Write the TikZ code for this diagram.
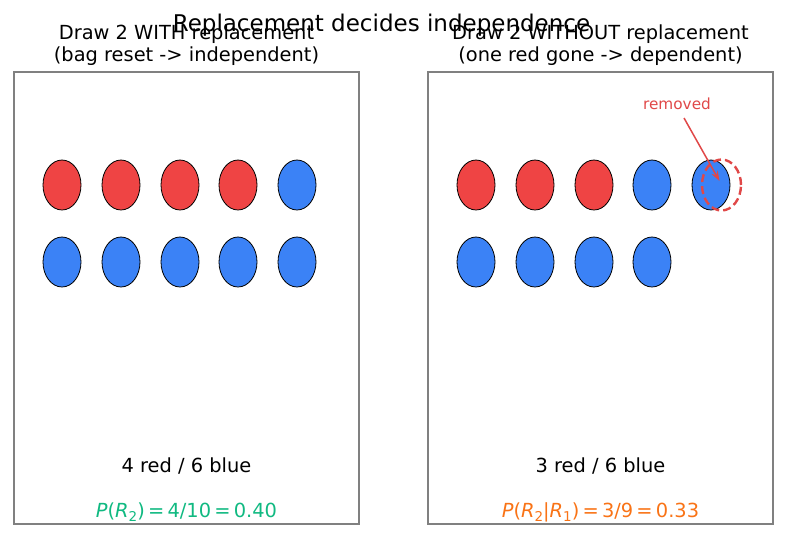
\documentclass[tikz,border=0pt]{standalone}
\usepackage{fontspec}
\setmainfont{DejaVu Sans}
\usetikzlibrary{shapes.geometric,arrows.meta}
\definecolor{ballred}{HTML}{EF4444}
\definecolor{ballblue}{HTML}{3B82F6}
\definecolor{eqgreen}{HTML}{10B981}
\definecolor{eqorange}{HTML}{F97316}
\definecolor{boxgray}{HTML}{808080}
\definecolor{markred}{HTML}{E04848}
\newcommand{\mysub}[1]{\raisebox{-0.25em}{\fontsize{13.5}{14}\selectfont #1}}
\tikzset{
  ball/.style={ellipse, draw=black, line width=0.8pt, minimum width=38pt, minimum height=50pt, inner sep=0pt},
  redball/.style={ball, fill=ballred},
  blueball/.style={ball, fill=ballblue},
  panel/.style={draw=boxgray, line width=1.2pt},
  titletext/.style={font=\fontsize{23}{27}\selectfont, anchor=base},
  subtext/.style={font=\fontsize{19.4}{23}\selectfont, anchor=base},
  labeltext/.style={font=\fontsize{19.4}{23}\selectfont, anchor=base},
  eqtext/.style={font=\fontsize{19.4}{23}\selectfont, anchor=base},
  removedtext/.style={font=\fontsize{15.3}{18}\selectfont, anchor=base, text=markred},
}
\begin{document}
\begin{tikzpicture}[x=1pt,y=-1pt]
\useasboundingbox (0,0) rectangle (787,539);
% panels
\node[panel, minimum width=345pt, minimum height=452pt, inner sep=0pt] (leftpanel) at (186.5,298) {};
\node[panel, minimum width=345pt, minimum height=452pt, inner sep=0pt] (rightpanel) at (600.5,298) {};
% subtitles
\node[subtext] (lt1) at (186.5,39.5) {Draw 2 WITH replacement};
\node[subtext] (lt2) at (186.5,61) {(bag reset -> independent)};
\node[subtext] (rt1) at (600.5,39.5) {Draw 2 WITHOUT replacement};
\node[subtext] (rt2) at (600.5,61) {(one red gone -> dependent)};
% title
\node[titletext] (title) at (381.5,31.5) {Replacement decides independence};
% left balls
\node[redball] (l1) at (62,185) {};
\node[redball] (l2) at (121,185) {};
\node[redball] (l3) at (180,185) {};
\node[redball] (l4) at (238,185) {};
\node[blueball] (l5) at (297,185) {};
\node[blueball] (l6) at (62,262) {};
\node[blueball] (l7) at (121,262) {};
\node[blueball] (l8) at (180,262) {};
\node[blueball] (l9) at (238,262) {};
\node[blueball] (l10) at (297,262) {};
% right balls
\node[redball] (r1) at (476,185) {};
\node[redball] (r2) at (535,185) {};
\node[redball] (r3) at (594,185) {};
\node[blueball] (r4) at (652,185) {};
\node[blueball] (r5) at (711,185) {};
\node[blueball] (r6) at (476,262) {};
\node[blueball] (r7) at (535,262) {};
\node[blueball] (r8) at (594,262) {};
\node[blueball] (r9) at (652,262) {};
% removed marker
\node[ellipse, draw=markred, line width=2.4pt, dash pattern=on 8pt off 4pt, minimum width=39pt, minimum height=51pt, inner sep=0pt] (gone) at (721.5,185) {};
\node[removedtext] (removed) at (677,109) {removed};
\coordinate (arrowtail) at (684,118);
\coordinate (arrowtip) at (719.5,181);
\draw[markred, line width=1.5pt, -{Stealth[length=10pt,width=7pt]}] (arrowtail) -- (arrowtip);
% counts
\node[labeltext] (lc) at (186.5,472) {4 red / 6 blue};
\node[labeltext] (rc) at (600.5,472) {3 red / 6 blue};
% formulas
\node[eqtext, text=eqgreen] (leq) at (186.5,517) {{\itshape P}({\itshape R}\mysub{2})\,=\,4/10\,=\,0.40};
\node[eqtext, text=eqorange] (req) at (600.5,517) {{\itshape P}({\itshape R}\mysub{2}|{\itshape R}\mysub{1})\,=\,3/9\,=\,0.33};
\end{tikzpicture}
\end{document}
